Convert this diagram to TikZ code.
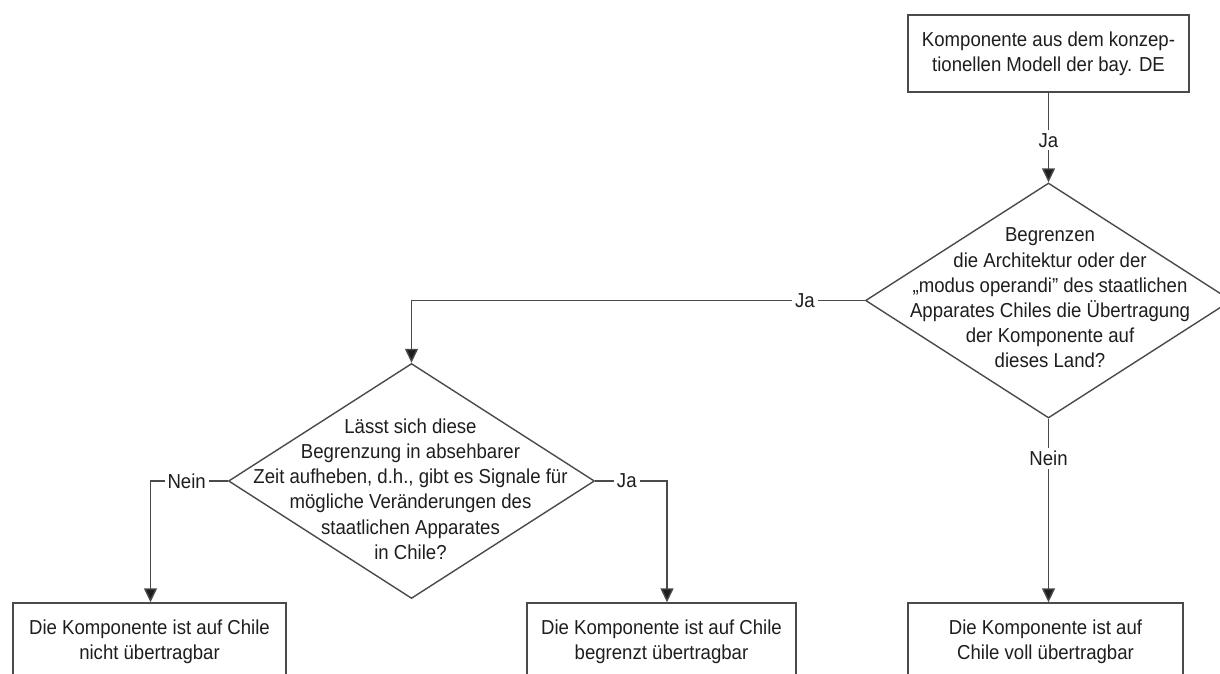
\documentclass[tikz,border=0pt]{standalone}
\usepackage{fontspec}
\setmainfont{Liberation Sans}[FakeStretch=0.92]
\usetikzlibrary{shapes.geometric,arrows.meta}
\definecolor{lineclr}{HTML}{4A4A4A}
\definecolor{txtclr}{HTML}{1E1E1E}
\begin{document}
\begin{tikzpicture}[x=1pt,y=-1pt,
  every node/.style={text=txtclr, font=\fontsize{20.2}{25.2}\selectfont},
  box/.style={draw=lineclr, line width=1.4pt, rectangle, minimum height=77pt,
    inner sep=0pt, align=center},
  decision/.style={draw=lineclr, line width=1.4pt, diamond, minimum width=366pt,
    minimum height=235pt, inner sep=0pt},
  qtext/.style={align=center, inner sep=0pt},
  conn/.style={draw=lineclr, line width=1.4pt},
  arr/.style={conn, -{Triangle[length=14pt, width=13pt, fill=txtclr]}},
  lbl/.style={fill=white, inner sep=3pt}]
  \useasboundingbox (0,0) rectangle (1220,674);
  \clip (0,0) rectangle (1220,674);
  \fill[white] (0,0) rectangle (1220,674);

  % start box
  \node[box, minimum width=281pt] (start) at (1048.5,53.5)
    {Komponente aus dem konzep-\\tionellen Modell der bay. DE};

  % first decision
  \node[decision] (d1) at (1048.5,300.5) {};
  \node[qtext] (d1t) at (1050,298)
    {Begrenzen\\die Architektur oder der\\„modus operandi" des staatlichen\\Apparates Chiles die Übertragung\\der Komponente auf\\dieses Land?};

  % second decision
  \node[decision] (d2) at (411.5,481) {};
  \node[qtext] (d2t) at (410.5,489)
    {Lässt sich diese\\Begrenzung in absehbarer\\Zeit aufheben, d.h., gibt es Signale für\\mögliche Veränderungen des\\staatlichen Apparates\\in Chile?};

  % results
  \node[box, minimum width=273pt] (r1) at (149.5,641.5)
    {Die Komponente ist auf Chile\\nicht übertragbar};
  \node[box, minimum width=269pt] (r2) at (661.5,641.5)
    {Die Komponente ist auf Chile\\begrenzt übertragbar};
  \node[box, minimum width=275pt] (r3) at (1045.5,641.5)
    {Die Komponente ist auf\\Chile voll übertragbar};

  % connectors
  \draw[arr] (start.south) -- node[lbl, pos=0.53] {Ja} (d1.north);
  \draw[arr] (d1.west) -| node[lbl, pos=0.066] {Ja} (d2.north);
  \draw[arr] (d1.south) -- node[lbl, pos=0.216] {Nein} (d1.south |- r3.north);
  \draw[arr] (d2.west) -| node[lbl, pos=0.266] {Nein} (r1.north -| 150.5,0);
  \draw[arr] (d2.east) -| node[lbl, pos=0.22] {Ja} (r2.north -| 667,0);
\end{tikzpicture}
\end{document}
